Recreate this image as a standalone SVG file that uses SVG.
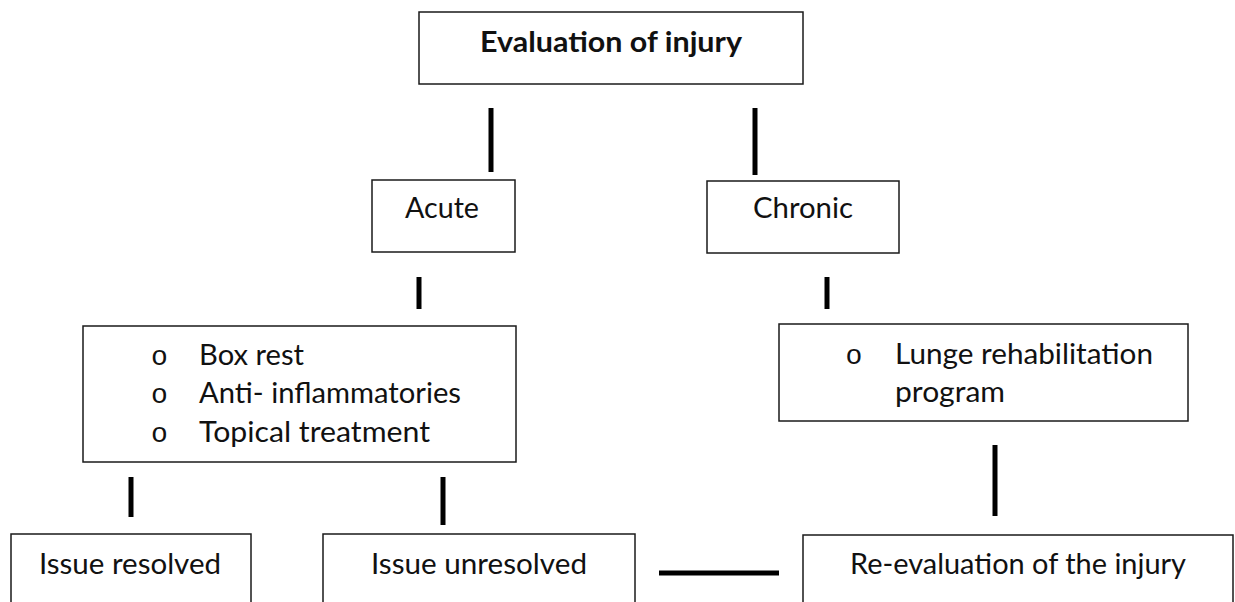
<svg xmlns="http://www.w3.org/2000/svg" width="1235" height="602" viewBox="0 0 1235 602">
<style>
.box{fill:#fff;stroke:#1a1a1a;stroke-width:1.5}
.t{font-family:Lato,"Liberation Sans",sans-serif;font-size:28px;fill:#111}
.c{text-anchor:middle}
.b{font-weight:bold}
.bul{font-family:"Liberation Mono","Courier New",monospace;font-size:28px;fill:#111;text-anchor:middle}
.con{stroke:#000;stroke-width:5;fill:none}
</style>
<rect width="1235" height="602" fill="#fff"/>
<g id="connectors">
<line class="con" x1="491" y1="108" x2="491" y2="172"/>
<line class="con" x1="755" y1="108" x2="755" y2="175"/>
<line class="con" x1="419" y1="277" x2="419" y2="309"/>
<line class="con" x1="827" y1="277" x2="827" y2="309"/>
<line class="con" x1="131" y1="477" x2="131" y2="517"/>
<line class="con" x1="443" y1="477" x2="443" y2="525"/>
<line class="con" x1="995" y1="445" x2="995" y2="516"/>
<line class="con" x1="659" y1="573" x2="779" y2="573"/>
</g>
<g id="evaluation">
<rect class="box" x="419" y="12" width="384" height="72"/>
<text class="t b" x="480" y="52" textLength="262" lengthAdjust="spacingAndGlyphs">Evaluation of injury</text>
</g>
<g id="acute">
<rect class="box" x="372" y="180" width="143" height="72"/>
<text class="t" x="405" y="218" textLength="74" lengthAdjust="spacingAndGlyphs">Acute</text>
</g>
<g id="chronic">
<rect class="box" x="707" y="181" width="192" height="72"/>
<text class="t" x="753" y="218" textLength="100" lengthAdjust="spacingAndGlyphs">Chronic</text>
</g>
<g id="acute-treatment">
<rect class="box" x="83" y="326" width="433" height="136"/>
<text class="bul" x="159.5" y="365">o</text>
<text class="t" x="199" y="365" textLength="105" lengthAdjust="spacingAndGlyphs">Box rest</text>
<text class="bul" x="159.5" y="403">o</text>
<text class="t" x="199" y="403" textLength="262" lengthAdjust="spacingAndGlyphs">Anti- inflammatories</text>
<text class="bul" x="159.5" y="442">o</text>
<text class="t" x="199" y="442" textLength="231" lengthAdjust="spacingAndGlyphs">Topical treatment</text>
</g>
<g id="chronic-treatment">
<rect class="box" x="779" y="324" width="409" height="97"/>
<text class="bul" x="854" y="364">o</text>
<text class="t" x="895" y="364" textLength="258" lengthAdjust="spacingAndGlyphs">Lunge rehabilitation</text>
<text class="t" x="895" y="402" textLength="110" lengthAdjust="spacingAndGlyphs">program</text>
</g>
<g id="resolved">
<rect class="box" x="11" y="534" width="240" height="90"/>
<text class="t" x="39" y="574" textLength="182" lengthAdjust="spacingAndGlyphs">Issue resolved</text>
</g>
<g id="unresolved">
<rect class="box" x="323" y="534" width="312" height="90"/>
<text class="t" x="371" y="574" textLength="216" lengthAdjust="spacingAndGlyphs">Issue unresolved</text>
</g>
<g id="reevaluation">
<rect class="box" x="803" y="535" width="430" height="90"/>
<text class="t" x="850" y="574" textLength="336" lengthAdjust="spacingAndGlyphs">Re-evaluation of the injury</text>
</g>
</svg>
